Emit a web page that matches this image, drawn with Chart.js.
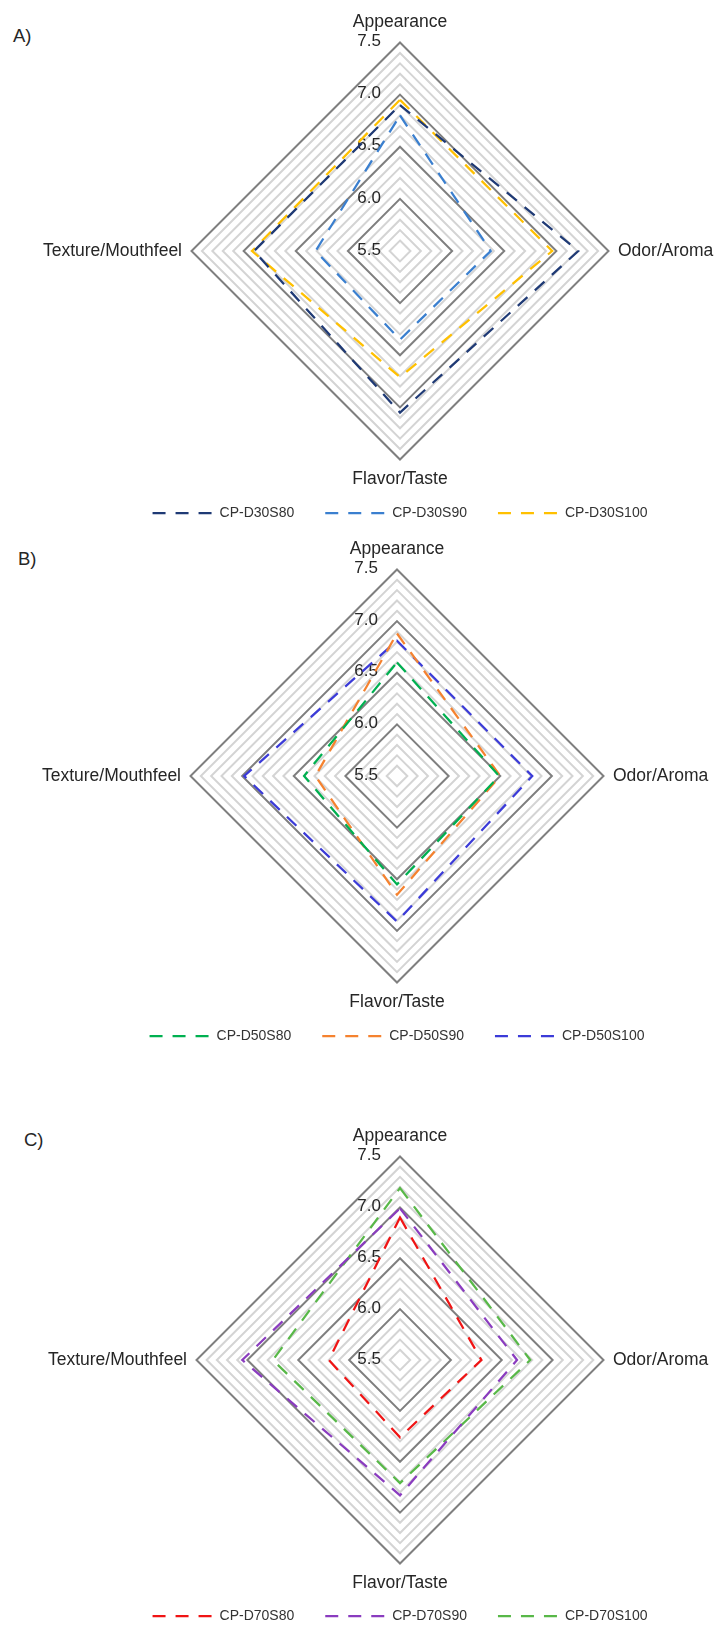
<!DOCTYPE html>
<html>
<head>
<meta charset="utf-8">
<script src="https://cdn.jsdelivr.net/npm/chart.js@4/dist/chart.umd.min.js"></script>
<style>
  html, body { margin: 0; padding: 0; background: #ffffff; width: 718px; height: 1626px; overflow: hidden; }
  .panel { position: absolute; }
  .tag { position: absolute; font: 18.5px/1 "Liberation Sans", Arial, sans-serif; color: #262626; }
</style>
</head>
<body>
<div class="tag" style="left:13px; top:27px;">A)</div>
<div class="tag" style="left:18px; top:550px;">B)</div>
<div class="tag" style="left:24px; top:1131px;">C)</div>
<canvas id="chartA" class="panel" width="800" height="545" style="left:0px; top:0px;"></canvas>
<canvas id="chartB" class="panel" width="800" height="529" style="left:-3px; top:539px;"></canvas>
<canvas id="chartC" class="panel" width="800" height="523" style="left:0px; top:1126px;"></canvas>
<script>
// Sensory attributes (radar axes) and the value scale
const categories = ['Appearance', 'Odor/Aroma', 'Flavor/Taste', 'Texture/Mouthfeel'];
const scaleMin = 5.5;
const scaleMax = 7.5;
const tickValues = [5.5, 6.0, 6.5, 7.0, 7.5];
const tickLabels = ['5.5', '6.0', '6.5', '7.0', '7.5'];

// A) 30 % dough formulations
const namesA = ['CP-D30S80', 'CP-D30S90', 'CP-D30S100'];
const d30s80  = [6.90, 7.21, 7.05, 6.90];
const d30s90  = [6.80, 6.37, 6.35, 6.31];
const d30s100 = [6.95, 6.96, 6.71, 6.92];

// B) 50 % dough formulations
const namesB = ['CP-D50S80', 'CP-D50S90', 'CP-D50S100'];
const d50s80  = [6.60, 6.49, 6.55, 6.40];
const d50s90  = [6.88, 6.50, 6.65, 6.29];
const d50s100 = [6.81, 6.81, 6.91, 6.98];

// C) 70 % dough formulations
const namesC = ['CP-D70S80', 'CP-D70S90', 'CP-D70S100'];
const d70s80  = [6.90, 6.30, 6.26, 6.20];
const d70s90  = [6.99, 6.65, 6.83, 7.05];
const d70s100 = [7.19, 6.78, 6.71, 6.75];

const FONT = '"Liberation Sans", Arial, sans-serif';
const TEXT = '#262626';
const LINE_W = 2.25;
const DASH = [13, 10];

// Value labels drawn beside the vertical axis, positioned by the radial scale
const axisValueLabels = {
  id: 'axisValueLabels',
  beforeDatasetsDraw(chart) {
    const scale = chart.scales.r;
    const ctx = chart.ctx;
    ctx.save();
    ctx.font = '17px ' + FONT;
    ctx.fillStyle = TEXT;
    ctx.textAlign = 'right';
    ctx.textBaseline = 'middle';
    tickValues.forEach((v, i) => {
      const p = scale.getPointPositionForValue(0, v);
      ctx.fillText(tickLabels[i], p.x - 19, p.y - 1);
    });
    ctx.restore();
  }
};

// Pulls the legend row up closer to the plot while keeping wide item spacing
const legendShift = {
  id: 'legendShift',
  afterLayout(chart, args, opts) {
    const lg = chart.legend;
    if (lg && opts.y) {
      lg.top += opts.y;
      lg.bottom += opts.y;
    }
  }
};

// Legend entries drawn as dashed line samples matching each series
function dashedLegendLabels(chart) {
  const items = Chart.defaults.plugins.legend.labels.generateLabels(chart);
  return items.map(item => {
    const ds = chart.data.datasets[item.datasetIndex];
    return Object.assign(item, {
      pointStyle: 'line',
      strokeStyle: ds.borderColor,
      lineWidth: ds.borderWidth,
      lineDash: ds.borderDash,
      lineCap: 'butt'
    });
  });
}

const isMajor = v => Math.abs(v * 2 - Math.round(v * 2)) < 1e-6;

function makeRadar(id, names, series, colors, padTop, shiftY) {
  new Chart(document.getElementById(id), {
    type: 'radar',
    data: {
      labels: categories,
      datasets: series.map((vals, i) => ({
        label: names[i],
        data: vals,
        borderColor: colors[i],
        backgroundColor: 'rgba(0,0,0,0)',
        borderWidth: LINE_W,
        borderDash: DASH,
        borderCapStyle: 'butt',
        fill: false,
        pointRadius: 0,
        pointHoverRadius: 0,
        tension: 0
      }))
    },
    options: {
      responsive: false,
      animation: false,
      layout: { padding: { top: padTop, bottom: 0, left: 0, right: 0 } },
      scales: {
        r: {
          min: scaleMin,
          max: scaleMax,
          beginAtZero: false,
          angleLines: { display: false },
          grid: {
            circular: false,
            color: c => isMajor(c.tick.value) ? '#7f7f7f' : '#d4d4d4',
            lineWidth: 2
          },
          ticks: { display: false, stepSize: 0.1 },
          pointLabels: {
            display: true,
            padding: 9.5,
            color: TEXT,
            font: { family: FONT, size: 17.5 }
          }
        }
      },
      plugins: {
        legend: {
          position: 'bottom',
          labels: {
            usePointStyle: true,
            pointStyle: 'line',
            pointStyleWidth: 60,
            padding: 31,
            color: '#333333',
            font: { family: FONT, size: 14 },
            generateLabels: dashedLegendLabels
          }
        },
        tooltip: { enabled: false },
        legendShift: { y: shiftY }
      }
    },
    plugins: [axisValueLabels, legendShift]
  });
}

makeRadar('chartA', namesA, [d30s80, d30s90, d30s100], ['#1f3a75', '#3a7fcf', '#ffc000'], 12, -15);
makeRadar('chartB', namesB, [d50s80, d50s90, d50s100], ['#00b050', '#f5822f', '#3b3bd8'], 0, -15);
makeRadar('chartC', namesC, [d70s80, d70s90, d70s100], ['#f01414', '#8a3cbf', '#58b848'], 0, -16);
</script>
</body>
</html>
